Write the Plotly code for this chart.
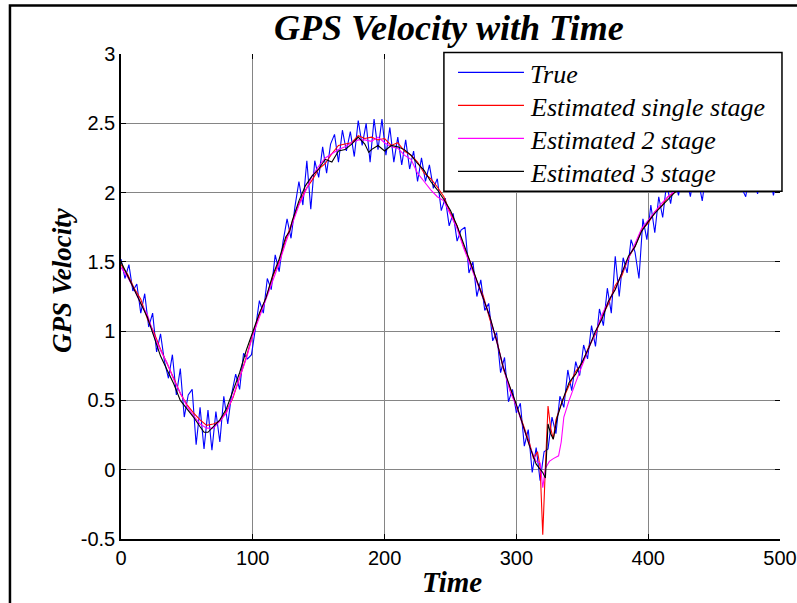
import plotly.graph_objects as go

# ---------------- data ----------------
t_true = [0, 3, 6, 9, 12, 15, 18, 21, 24, 27, 30, 33, 36, 39, 42, 45, 48, 51, 54, 57,
          60, 63, 66, 69, 72, 75, 78, 81, 84, 87, 90, 93, 96, 99, 102, 105, 108, 111, 114, 117,
          120, 123, 126, 129, 132, 135, 138, 141, 144, 147, 150, 153, 156, 159, 162, 165, 168, 171, 174, 177,
          180, 183, 186, 189, 192, 195, 198, 201, 204, 207, 210, 213, 216, 219, 222, 225, 228, 231, 234, 237,
          240, 243, 246, 249, 252, 255, 258, 261, 264, 267, 270, 273, 276, 279, 282, 285, 288, 291, 294, 297,
          300, 303, 306, 309, 312, 315, 318, 321, 324, 327, 330, 333, 336, 339, 342, 345, 348, 351, 354, 357,
          360, 363, 366, 369, 372, 375, 378, 381, 384, 387, 390, 393, 396, 399, 402, 405, 408, 411, 414, 417,
          420, 423, 426, 429, 432, 435, 438, 441, 444, 447, 450, 453, 456, 459, 462, 465, 468, 471, 474, 477,
          480, 483, 486, 489, 492, 495, 498, 500]
v_true = [1.52, 1.38, 1.48, 1.29, 1.34, 1.13, 1.27, 1.03, 1.13, 0.85, 0.98, 0.78, 0.66, 0.83, 0.54, 0.73, 0.38, 0.54, 0.58, 0.18,
          0.45, 0.15, 0.43, 0.14, 0.42, 0.20, 0.53, 0.33, 0.55, 0.69, 0.58, 0.84, 0.80, 0.83, 1.02, 1.22, 1.13, 1.38, 1.30, 1.55,
          1.43, 1.65, 1.81, 1.67, 1.90, 2.08, 1.91, 2.23, 1.88, 2.23, 2.11, 2.33, 2.14, 2.35, 2.42, 2.22, 2.45, 2.30, 2.44, 2.26,
          2.52, 2.34, 2.50, 2.22, 2.53, 2.31, 2.53, 2.27, 2.47, 2.22, 2.40, 2.20, 2.38, 2.17, 2.30, 2.08, 2.25, 2.08, 2.20, 2.03,
          2.10, 1.87, 1.96, 1.76, 1.85, 1.65, 1.73, 1.75, 1.42, 1.50, 1.25, 1.37, 1.15, 1.20, 0.93, 0.99, 0.70, 0.81, 0.49, 0.58,
          0.41, 0.48, 0.17, 0.29, -0.02, 0.16, -0.08, 0.13, 0.15, 0.38, 0.26, 0.53, 0.45, 0.72, 0.57, 0.78, 0.68, 0.90, 0.80, 1.04,
          0.89, 1.16, 1.04, 1.31, 1.13, 1.54, 1.25, 1.53, 1.42, 1.66, 1.57, 1.38, 1.81, 1.66, 1.91, 1.71, 1.97, 1.82, 2.07, 1.92,
          2.10, 1.98, 2.14, 2.10, 1.97, 2.16, 2.09, 1.94, 2.15, 2.05, 2.18, 2.05, 2.18, 2.03, 2.16, 2.06, 2.20, 2.03, 1.97, 2.15,
          2.10, 1.99, 2.18, 2.06, 2.15, 1.98, 2.12, 2.05]

t_single = [0, 5, 10, 15, 20, 25, 30, 35, 40, 45, 50, 55, 60, 65, 70, 75, 80, 85, 90, 95,
            100, 105, 110, 115, 120, 125, 130, 135, 140, 145, 150, 155, 160, 165, 170, 175, 180, 185, 190, 195,
            200, 205, 210, 215, 220, 225, 230, 235, 240, 245, 250, 255, 260, 265, 270, 275, 280, 285, 290, 295,
            300, 305, 310, 313, 316, 318, 320, 322, 324, 326, 328, 330, 335, 340, 345, 350, 355, 360, 365, 370,
            375, 380, 385, 390, 395, 400, 405, 410, 415, 420, 425, 430, 440, 450, 460, 470, 480, 490, 500]
v_single = [1.48, 1.41, 1.31, 1.23, 1.09, 0.99, 0.87, 0.77, 0.66, 0.55, 0.47, 0.41, 0.36, 0.32, 0.33, 0.35, 0.42, 0.52, 0.67, 0.81,
            0.98, 1.12, 1.24, 1.39, 1.50, 1.66, 1.79, 1.92, 2.02, 2.09, 2.17, 2.21, 2.28, 2.34, 2.35, 2.36, 2.41, 2.39, 2.40, 2.38,
            2.39, 2.34, 2.36, 2.30, 2.27, 2.22, 2.14, 2.10, 2.04, 1.97, 1.85, 1.76, 1.61, 1.50, 1.36, 1.25, 1.08, 0.94, 0.73, 0.59,
            0.46, 0.33, 0.19, 0.08, 0.13, 0.02, -0.47, 0.02, 0.46, 0.30, 0.22, 0.36, 0.50, 0.61, 0.71, 0.77, 0.89, 0.98, 1.11, 1.20,
            1.33, 1.40, 1.53, 1.61, 1.73, 1.78, 1.86, 1.90, 1.97, 2.00, 2.04, 2.05, 2.07, 2.08, 2.08, 2.07, 2.08, 2.08, 2.08]

t_two = [0, 5, 10, 15, 20, 25, 30, 35, 40, 45, 50, 55, 60, 65, 70, 75, 80, 85, 90, 95,
         100, 105, 110, 115, 120, 125, 130, 135, 140, 145, 150, 155, 160, 165, 170, 175, 180, 185, 190, 195,
         200, 205, 210, 215, 220, 225, 230, 235, 240, 245, 250, 255, 260, 265, 270, 275, 280, 285, 290, 295,
         300, 305, 310, 315, 318, 320, 322, 325, 328, 332, 334, 336, 340, 345, 350, 355, 360, 365, 370, 375,
         380, 385, 390, 395, 400, 405, 410, 415, 420, 430, 440, 450, 460, 470, 480, 490, 500]
v_two = [1.46, 1.39, 1.30, 1.20, 1.12, 0.97, 0.86, 0.77, 0.65, 0.55, 0.46, 0.39, 0.33, 0.30, 0.30, 0.35, 0.41, 0.53, 0.66, 0.80,
         0.97, 1.10, 1.22, 1.36, 1.49, 1.64, 1.78, 1.91, 2.01, 2.12, 2.19, 2.25, 2.28, 2.31, 2.33, 2.36, 2.38, 2.38, 2.37, 2.40,
         2.36, 2.33, 2.32, 2.27, 2.24, 2.14, 2.08, 2.02, 1.97, 1.94, 1.84, 1.74, 1.60, 1.48, 1.36, 1.23, 1.10, 0.92, 0.75, 0.57,
         0.46, 0.31, 0.17, 0.06, 0.05, -0.13, 0.01, 0.06, 0.08, 0.10, 0.20, 0.38, 0.50, 0.63, 0.76, 0.88, 0.99, 1.12, 1.22, 1.30,
         1.42, 1.52, 1.63, 1.74, 1.80, 1.86, 1.92, 1.97, 2.01, 2.05, 2.07, 2.08, 2.09, 2.08, 2.08, 2.09, 2.08]

t_three = [0, 5, 10, 15, 20, 25, 30, 35, 40, 45, 50, 55, 60, 63, 66, 70, 75, 80, 85, 90,
           95, 100, 105, 110, 115, 120, 125, 128, 130, 135, 140, 145, 150, 155, 160, 165, 170, 175, 180, 185,
           188, 190, 195, 200, 205, 210, 215, 220, 225, 230, 235, 240, 245, 250, 255, 260, 265, 270, 275, 280,
           285, 290, 295, 300, 305, 310, 315, 318, 320, 322, 324, 326, 328, 331, 335, 340, 345, 350, 355, 360,
           365, 370, 375, 380, 385, 390, 395, 400, 405, 410, 415, 420, 430, 440, 450, 460, 470, 480, 490, 500]
v_three = [1.50, 1.40, 1.29, 1.20, 1.10, 0.96, 0.82, 0.72, 0.62, 0.50, 0.44, 0.38, 0.31, 0.27, 0.27, 0.31, 0.36, 0.44, 0.57, 0.70,
           0.86, 1.00, 1.13, 1.24, 1.40, 1.52, 1.68, 1.72, 1.80, 1.94, 2.05, 2.12, 2.17, 2.24, 2.22, 2.30, 2.31, 2.35, 2.40, 2.35,
           2.29, 2.31, 2.34, 2.30, 2.34, 2.33, 2.31, 2.27, 2.21, 2.16, 2.08, 2.02, 1.95, 1.87, 1.76, 1.63, 1.50, 1.37, 1.24, 1.10,
           0.93, 0.74, 0.60, 0.47, 0.32, 0.17, 0.04, 0.00, -0.02, -0.06, 0.33, 0.26, 0.22, 0.38, 0.50, 0.63, 0.69, 0.78, 0.88, 1.00,
           1.09, 1.22, 1.30, 1.42, 1.54, 1.61, 1.72, 1.79, 1.85, 1.90, 1.95, 2.00, 2.05, 2.07, 2.08, 2.08, 2.09, 2.08, 2.07, 2.08]

series_names = ["True", "Estimated single stage", "Estimated 2 stage", "Estimated 3 stage"]
series_colors = ["#0000ff", "#ff0000", "#ff00ff", "#000000"]

x_ticks = [0, 100, 200, 300, 400, 500]
y_ticks = [-0.5, 0, 0.5, 1, 1.5, 2, 2.5, 3]
y_tick_text = ["-0.5", "0", "0.5", "1", "1.5", "2", "2.5", "3"]

# ---------------- figure ----------------
SERIF = "Liberation Serif, Times New Roman, serif"
SANS = "Liberation Sans, Arial, sans-serif"

fig = go.Figure()
for (tx, vy), name, col in zip([(t_true, v_true), (t_single, v_single), (t_two, v_two), (t_three, v_three)],
                               series_names, series_colors):
    fig.add_trace(go.Scatter(x=tx, y=vy, mode="lines", name=name,
                             line=dict(color=col, width=1.1), showlegend=False))

# helper trace for mirrored tick axes
fig.add_trace(go.Scatter(x=[None], y=[None], xaxis="x2", yaxis="y2", showlegend=False, hoverinfo="skip"))

axis_common = dict(ticks="inside", ticklen=5, tickwidth=1, tickcolor="black", automargin=False,
                   tickfont=dict(family=SANS, size=20, color="black"))

fig.update_layout(
    width=797, height=603,
    margin=dict(l=121, r=17, t=54, b=64, autoexpand=False),
    paper_bgcolor="white", plot_bgcolor="white",
    showlegend=False,
    xaxis=dict(range=[0, 500], tickvals=x_ticks, ticktext=[str(v) for v in x_ticks],
               showgrid=True, gridcolor="#858585", gridwidth=1, zeroline=False,
               showline=True, linecolor="black", linewidth=1.5, **axis_common),
    yaxis=dict(range=[-0.5, 3], tickvals=y_ticks, ticktext=y_tick_text,
               showgrid=True, gridcolor="#858585", gridwidth=1, zeroline=False,
               showline=True, linecolor="black", linewidth=1.5, **axis_common),
    xaxis2=dict(range=[0, 500], overlaying="x", side="top", anchor="y2", tickvals=x_ticks,
                showticklabels=False, showgrid=False, zeroline=False, showline=False, automargin=False,
                ticks="inside", ticklen=5, tickcolor="black"),
    yaxis2=dict(range=[-0.5, 3], overlaying="y", side="right", anchor="x2", tickvals=y_ticks,
                showticklabels=False, showgrid=False, zeroline=False, showline=False, automargin=False,
                ticks="inside", ticklen=5, tickcolor="black"),
)

# outer figure frame
fig.add_shape(type="rect", xref="paper", yref="paper", x0=-0.1685, x1=1.2, y0=-0.3, y1=1.0999,
              line=dict(color="black", width=2.5), fillcolor="rgba(0,0,0,0)", layer="above")

# manual legend box
fig.add_shape(type="rect", xref="paper", yref="paper", x0=0.490, x1=1.003, y0=0.717, y1=1.003,
              line=dict(color="black", width=1.5), fillcolor="white", layer="above")
leg_y = [0.962, 0.894, 0.826, 0.758]
for yy, name, col in zip(leg_y, series_names, series_colors):
    fig.add_shape(type="line", xref="paper", yref="paper", x0=0.5114, x1=0.6115, y0=yy, y1=yy,
                  line=dict(color=col, width=1.2), layer="above")
    fig.add_annotation(xref="paper", yref="paper", x=0.618, y=yy - 0.005, text="<i>%s</i>" % name,
                       showarrow=False, xanchor="left", yanchor="middle",
                       font=dict(family=SERIF, size=26, color="black"))

# titles
fig.add_annotation(xref="paper", yref="paper", x=0.498, y=1.0545, text="<b><i>GPS Velocity with Time</i></b>",
                   showarrow=False, xanchor="center", yanchor="middle",
                   font=dict(family=SERIF, size=36, color="black"))
fig.add_annotation(xref="paper", yref="paper", x=0.502, y=-0.088, text="<b><i>Time</i></b>",
                   showarrow=False, xanchor="center", yanchor="middle",
                   font=dict(family=SERIF, size=29, color="black"))
fig.add_annotation(xref="paper", yref="paper", x=-0.0895, y=0.534, text="<b><i>GPS Velocity</i></b>",
                   showarrow=False, xanchor="center", yanchor="middle", textangle=-90,
                   font=dict(family=SERIF, size=27, color="black"))

fig.write_html("out.html")
